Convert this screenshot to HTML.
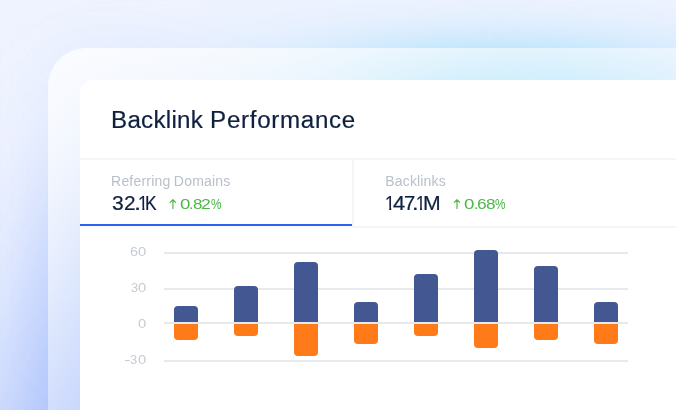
<!DOCTYPE html>
<html lang="en">
<head>
<meta charset="utf-8">
<title>Backlink Performance</title>
<style>
*{box-sizing:border-box;margin:0;padding:0}
html,body{width:676px;height:410px;overflow:hidden}
body{position:relative;font-family:"Liberation Sans",sans-serif;background:#eef3ff}
.bg{position:absolute;left:0;top:0;width:676px;height:410px;overflow:hidden;background:#eff3ff}
.g1{position:absolute;left:60px;top:51px;width:800px;height:300px;filter:blur(30px);
 background:linear-gradient(90deg, rgba(160,200,248,.14) 0, rgba(155,205,248,.2) 130px, rgba(145,214,249,.4) 240px, rgba(142,216,249,.8) 340px, rgba(142,216,249,1) 420px, rgba(142,217,249,.95) 490px, rgba(146,216,249,.72) 560px, rgba(148,216,249,.48) 616px, rgba(148,216,249,.4) 700px)}
.g2{position:absolute;left:104px;top:146px;width:900px;height:900px;transform-origin:0 0;transform:rotate(19.3deg);filter:blur(62px);background:rgb(156,183,250)}
.frame{position:absolute;left:48px;top:48px;width:628px;height:362px;border-radius:38px 0 0 0;
 background:linear-gradient(155deg, rgba(255,255,255,.78), rgba(255,255,255,.1))}
.card{position:absolute;left:80px;top:80px;width:596px;height:330px;border-radius:13px 0 0 0;background:#fff}
.abs{position:absolute;white-space:nowrap;line-height:1}
.title{font-weight:normal;left:111.3px;top:108.5px;font-size:23px;color:#0f213f;word-spacing:.17px;-webkit-text-stroke:.2px #0f213f;transform-origin:0 0;transform:scaleX(1.05)}
.hr{position:absolute;background:#f5f5f7}
.lbl{font-size:14px;color:#b9c0cb}
.ul{position:absolute;left:80px;top:224px;width:272px;height:2px;background:#2d63ef}
.grid{position:absolute;left:164px;width:464px;height:2px;background:#e6e9ed}
.b{position:absolute;width:24px;background:#435893;border-radius:4px 4px 0 0}
.o{position:absolute;width:24px;background:#ff7a18;border-radius:0 0 4px 4px;top:324px}
.gt{position:absolute;line-height:1;white-space:nowrap}
.gt span{display:inline-block;vertical-align:top;transform-origin:0 0}
.value{-webkit-text-stroke:.22px #0f213f}
.ar{position:absolute;pointer-events:none}
</style>
</head>
<body>
<div class="bg"><div class="g2"></div><div class="g1"></div></div>
<div class="frame"></div>
<main class="panel">
<div class="card"></div>
<header><h1 class="abs title"><span style="letter-spacing:.27px">Backlink</span> <span style="letter-spacing:.66px">Performance</span></h1></header>
<nav class="tabs">
<div class="hr" style="left:80px;top:158px;width:596px;height:2px"></div>
<div class="hr" style="left:352px;top:158px;width:2px;height:70px"></div>
<div class="hr" style="left:80px;top:226px;width:272px;height:2px;background:#fafafb"></div>
<div class="hr" style="left:352px;top:226px;width:324px;height:2px"></div>
<div class="tab active">
<div class="ul"></div>
<div class="abs lbl" style="left:111.1px;top:174px;letter-spacing:.19px;word-spacing:-.6px">Referring Domains</div>
<div class="gt value" aria-label="32.1K" style="left:112.11px;top:193.46px;font-size:20px;height:20px;color:#0f213f"><span style="width:11.75px;transform:scale(1.053,0.996)">3</span><span style="width:9.84px;transform:scale(1.041,0.996)">2</span><span style="width:4.05px;transform:scale(1.280,0.996)">.</span><span style="width:7.14px;transform:scale(0.903,0.996);clip-path:polygon(0 0,7.10px 0,7.10px 20px,4.75px 20px,4.75px 14.00px,0 14.00px)">1</span><span style="width:11.61px;transform:scale(0.870,0.996)">K</span></div>
<svg class="ar" style="left:0;top:0" width="676" height="410" viewBox="0 0 676 410"><path d="M172.90 208.43V199.67M170.20 202.37L172.90 199.67L175.60 202.37" fill="none" stroke="#4db748" stroke-width="1.15" stroke-linecap="round" stroke-linejoin="round"/></svg><div class="gt change" aria-label="0.82%" style="left:180.23px;top:196.53px;font-size:14px;height:14px;color:#4db748"><span style="width:9.21px;transform:scale(1.333,1.039)">0</span><span style="width:3.19px;transform:scale(1.164,1.039)">.</span><span style="width:8.72px;transform:scale(1.215,1.039)">8</span><span style="width:9.42px;transform:scale(1.255,1.039)">2</span><span style="width:10.50px;transform:scale(0.843,1.039)">%</span></div>
</div>
<div class="tab">
<div class="abs lbl" style="left:385.3px;top:174px;letter-spacing:.16px">Backlinks</div>
<div class="gt value" aria-label="147.1M" style="left:384.69px;top:193.46px;font-size:20px;height:20px;color:#0f213f"><span style="width:7.87px;transform:scale(0.883,0.996);clip-path:polygon(0 0,7.10px 0,7.10px 20px,4.75px 20px,4.75px 14.00px,0 14.00px)">1</span><span style="width:11.44px;transform:scale(1.090,0.996)">4</span><span style="width:8.51px;transform:scale(1.008,0.996)">7</span><span style="width:3.77px;transform:scale(1.173,0.996)">.</span><span style="width:6.91px;transform:scale(0.842,0.996);clip-path:polygon(0 0,7.10px 0,7.10px 20px,4.75px 20px,4.75px 14.00px,0 14.00px)">1</span><span style="width:17.70px;transform:scale(1.062,0.996)">M</span></div>
<svg class="ar" style="left:0;top:0" width="676" height="410" viewBox="0 0 676 410"><path d="M457.00 208.43V199.67M454.30 202.37L457.00 199.67L459.70 202.37" fill="none" stroke="#4db748" stroke-width="1.15" stroke-linecap="round" stroke-linejoin="round"/></svg><div class="gt change" aria-label="0.68%" style="left:464.33px;top:196.53px;font-size:14px;height:14px;color:#4db748"><span style="width:9.21px;transform:scale(1.333,1.039)">0</span><span style="width:3.03px;transform:scale(1.164,1.039)">.</span><span style="width:9.06px;transform:scale(1.239,1.039)">6</span><span style="width:9.25px;transform:scale(1.231,1.039)">8</span><span style="width:10.50px;transform:scale(0.843,1.039)">%</span></div>
</div>
</nav>
<section class="chart">
<div class="grid" style="top:252px"></div>
<div class="grid" style="top:288px"></div>
<div class="grid" style="top:322px"></div>
<div class="grid" style="top:360px"></div>
<div class="yaxis">
<div class="gt tick" aria-label="60" style="left:130.01px;top:244.70px;font-size:13px;height:13px;color:#c6ccd5"><span style="width:7.72px;transform:scale(1.100,1.037)">6</span><span style="width:8.22px;transform:scale(1.136,1.037)">0</span></div>
<div class="gt tick" aria-label="30" style="left:130.50px;top:280.70px;font-size:13px;height:13px;color:#c6ccd5"><span style="width:7.23px;transform:scale(0.996,1.037)">3</span><span style="width:8.22px;transform:scale(1.136,1.037)">0</span></div>
<div class="gt tick" aria-label="0" style="left:137.73px;top:316.70px;font-size:13px;height:13px;color:#c6ccd5"><span style="width:8.22px;transform:scale(1.136,1.037)">0</span></div>
<div class="gt tick" aria-label="-30" style="left:123.92px;top:352.70px;font-size:13px;height:13px;color:#c6ccd5"><span style="width:6.58px;transform:scale(1.568,1.037)">-</span><span style="width:7.23px;transform:scale(0.996,1.037)">3</span><span style="width:8.22px;transform:scale(1.136,1.037)">0</span></div>
</div>
<div class="bars">
<div class="bar"><div class="b" style="left:174px;top:306px;height:16px"></div><div class="o" style="left:174px;height:16px"></div></div>
<div class="bar"><div class="b" style="left:234px;top:286px;height:36px"></div><div class="o" style="left:234px;height:12px"></div></div>
<div class="bar"><div class="b" style="left:294px;top:262px;height:60px"></div><div class="o" style="left:294px;height:32px"></div></div>
<div class="bar"><div class="b" style="left:354px;top:302px;height:20px"></div><div class="o" style="left:354px;height:20px"></div></div>
<div class="bar"><div class="b" style="left:414px;top:274px;height:48px"></div><div class="o" style="left:414px;height:12px"></div></div>
<div class="bar"><div class="b" style="left:474px;top:250px;height:72px"></div><div class="o" style="left:474px;height:24px"></div></div>
<div class="bar"><div class="b" style="left:534px;top:266px;height:56px"></div><div class="o" style="left:534px;height:16px"></div></div>
<div class="bar"><div class="b" style="left:594px;top:302px;height:20px"></div><div class="o" style="left:594px;height:20px"></div></div>
</div>
</section>
</main>
</body>
</html>
